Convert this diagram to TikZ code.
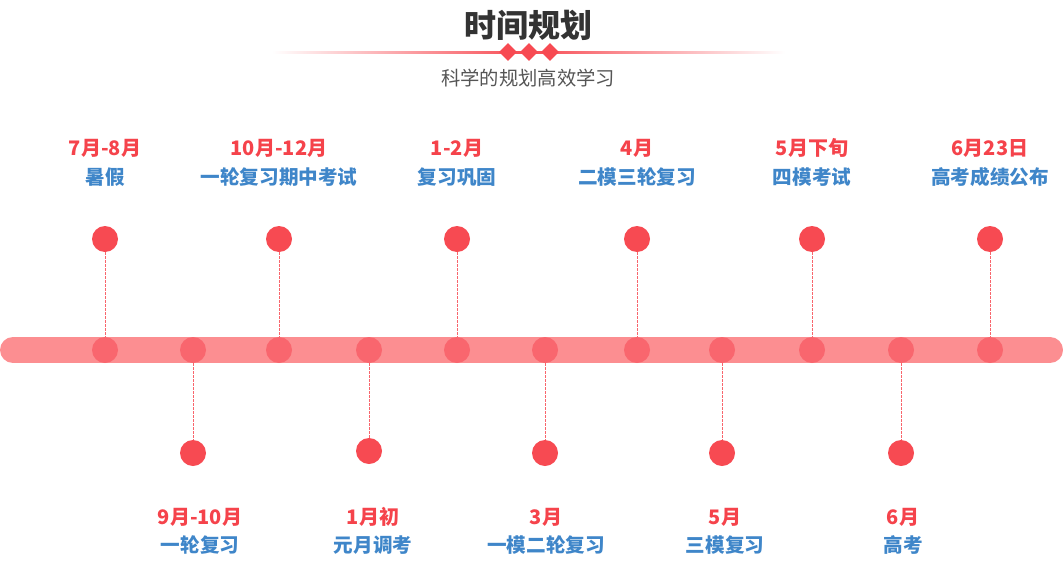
\documentclass[tikz,border=0pt]{standalone}
\usepackage{fontspec}
\setmainfont{Noto Sans CJK SC}
\usepackage{tikz}
\usetikzlibrary{shapes.geometric}
\definecolor{PlanBar}{HTML}{FC8E91}
\definecolor{PlanDot}{HTML}{F9666E}
\definecolor{PlanRed}{HTML}{F74A52}
\definecolor{PlanDate}{HTML}{F5434B}
\definecolor{PlanBlue}{HTML}{3F86C9}
\definecolor{PlanInk}{HTML}{333333}
\definecolor{PlanGray}{HTML}{555555}

\begin{document}
\begin{tikzpicture}[x=0.75pt,y=-0.75pt,
  bardot/.style={circle, fill=PlanDot, minimum size=19.5pt, inner sep=0pt},
  endball/.style={circle, fill=PlanRed, minimum size=19.5pt, inner sep=0pt},
  datelabel/.style={font=\bfseries\fontsize{15pt}{17pt}\selectfont, text=PlanDate, inner sep=0pt},
  namelabel/.style={font=\bfseries\fontsize{14.7pt}{17pt}\selectfont, text=PlanBlue, inner sep=0pt},
  stem/.style={draw=PlanRed!85, dash pattern=on 2pt off 1pt, line width=0.6pt},
  gem/.style={diamond, fill=PlanRed, minimum size=13.5pt, inner sep=0pt}
]
\useasboundingbox (0,0) rectangle (1063,564);

% heading
\node[font=\bfseries\fontsize{24pt}{28pt}\selectfont, text=PlanInk] (title) at (528,25) {时间规划};
\shade[left color=white, right color=white, middle color=PlanRed] (272,51.2) rectangle (785,53.2);
\node[gem] (g1) at (508,52) {};
\node[gem] (g2) at (529,52) {};
\node[gem] (g3) at (550,52) {};
\node[font=\fontsize{14.5pt}{17pt}\selectfont, text=PlanGray] (subtitle) at (528,78) {科学的规划高效学习};

% time bar
\draw[PlanBar, line width=19.5pt, line cap=round] (13,350) -- (1050,350);
\node[bardot] (b1) at (105,350) {};
\node[bardot] (b2) at (193,350) {};
\node[bardot] (b3) at (279,350) {};
\node[bardot] (b4) at (369,350) {};
\node[bardot] (b5) at (457,350) {};
\node[bardot] (b6) at (545,350) {};
\node[bardot] (b7) at (637,350) {};
\node[bardot] (b8) at (722,350) {};
\node[bardot] (b9) at (812,350) {};
\node[bardot] (b10) at (901,350) {};
\node[bardot] (b11) at (990,350) {};

% events above
\node[endball] (e1) at (105,239) {};
\node[endball] (e3) at (279,239) {};
\node[endball] (e5) at (457,239) {};
\node[endball] (e7) at (637,239) {};
\node[endball] (e9) at (812,239) {};
\node[endball] (e11) at (990,239) {};
\node[datelabel] (d1) at (105,148) {7月-8月};
\node[namelabel] (n1) at (105,177) {暑假};
\node[datelabel] (d3) at (279,148) {10月-12月};
\node[namelabel] (n3) at (279,177) {一轮复习期中考试};
\node[datelabel] (d5) at (457,148) {1-2月};
\node[namelabel] (n5) at (457,177) {复习巩固};
\node[datelabel] (d7) at (637,148) {4月};
\node[namelabel] (n7) at (637,177) {二模三轮复习};
\node[datelabel] (d9) at (812,148) {5月下旬};
\node[namelabel] (n9) at (812,177) {四模考试};
\node[datelabel] (d11) at (990,148) {6月23日};
\node[namelabel] (n11) at (990,177) {高考成绩公布};

% events below
\node[endball] (e2) at (193,453) {};
\node[endball] (e4) at (369,451) {};
\node[endball] (e6) at (545,453) {};
\node[endball] (e8) at (722,453) {};
\node[endball] (e10) at (901,453) {};
\node[datelabel] (d2) at (200,517) {9月-10月};
\node[namelabel] (n2) at (200,545) {一轮复习};
\node[datelabel] (d4) at (373,517) {1月初};
\node[namelabel] (n4) at (373,545) {元月调考};
\node[datelabel] (d6) at (546,517) {3月};
\node[namelabel] (n6) at (546,545) {一模二轮复习};
\node[datelabel] (d8) at (725,517) {5月};
\node[namelabel] (n8) at (725,545) {三模复习};
\node[datelabel] (d10) at (903,517) {6月};
\node[namelabel] (n10) at (903,545) {高考};

% stems
\draw[stem] (e1) -- (b1);
\draw[stem] (b2) -- (e2);
\draw[stem] (e3) -- (b3);
\draw[stem] (b4) -- (e4);
\draw[stem] (e5) -- (b5);
\draw[stem] (b6) -- (e6);
\draw[stem] (e7) -- (b7);
\draw[stem] (b8) -- (e8);
\draw[stem] (e9) -- (b9);
\draw[stem] (b10) -- (e10);
\draw[stem] (e11) -- (b11);
\end{tikzpicture}
\end{document}
